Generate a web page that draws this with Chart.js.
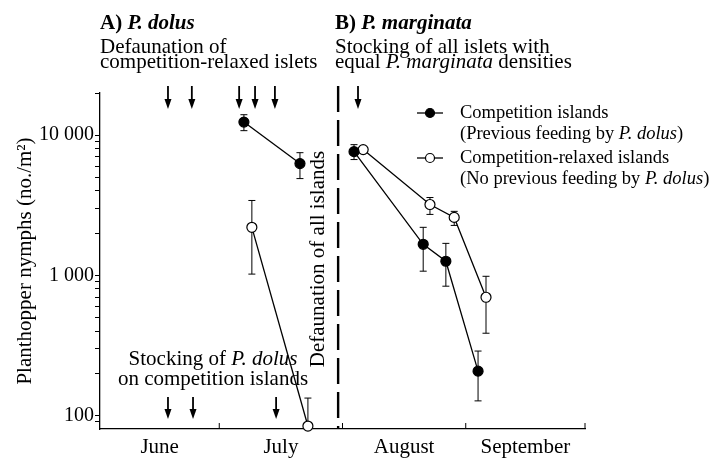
<!DOCTYPE html>
<html>
<head>
<meta charset="utf-8">
<script src="https://cdn.jsdelivr.net/npm/chart.js@4.4.0/dist/chart.umd.min.js"></script>
<style>
  html, body { margin: 0; padding: 0; background: #fff; }
  #wrap { width: 716px; height: 458px; }
</style>
</head>
<body>
<div id="wrap"><canvas id="chart"></canvas></div>
<script>
// days counted from 1 June
const monthNames = ['June', 'July', 'August', 'September'];
const monthMid = [15, 45.5, 76.5, 107];
const monthStart = [30, 61, 92, 122];

const yTickValues = [90, 100, 200, 300, 400, 500, 600, 700, 800, 900,
  1000, 2000, 3000, 4000, 5000, 6000, 7000, 8000, 9000, 10000, 20000];

// A) P. dolus
const compADay = [36.2, 50.3];
const compAVal = [12400, 6270];
const compALow = [10770, 4900];
const compAHigh = [14000, 7500];

const relADay = [38.2, 52.3];
const relAVal = [2200, 84];
const relALow = [1020, 80];
const relAHigh = [3420, 133];

// B) P. marginata
const compBDay = [63.9, 81.3, 87.0, 95.1];
const compBVal = [7630, 1665, 1260, 207];
const compBLow = [6700, 1070, 836, 127];
const compBHigh = [8560, 2200, 1690, 288];

const relBDay = [66.2, 83.0, 89.1, 97.1];
const relBVal = [7890, 3200, 2590, 697];
const relBLow = [7600, 2720, 2270, 386];
const relBHigh = [8200, 3590, 2860, 984];

// event markers
const defaunationDay = 59.9;
const topArrowDays = [17.1, 23.1, 35.0, 39.0, 44.0, 64.9];
const bottomArrowDays = [17.1, 23.4, 44.3];

const FONT = "'Liberation Serif', 'Times New Roman', serif";
Chart.defaults.font.family = FONT;
Chart.defaults.color = '#000';

function pts(days, vals) {
  return days.map((d, i) => ({ x: d, y: vals[i] }));
}

const errors = [
  [compADay, compALow, compAHigh],
  [relADay, relALow, relAHigh],
  [compBDay, compBLow, compBHigh],
  [relBDay, relBLow, relBHigh]
];

function series(days, vals, filled) {
  return {
    data: pts(days, vals),
    borderColor: '#000',
    borderWidth: 1.3,
    backgroundColor: filled ? '#000' : '#fff',
    pointBackgroundColor: filled ? '#000' : '#fff',
    pointBorderColor: '#000',
    pointBorderWidth: 1.2,
    pointRadius: 5,
    tension: 0,
    clip: false
  };
}

function richText(ctx, parts, x, y, size, align) {
  let total = 0;
  parts.forEach(p => {
    ctx.font = p[1] + ' ' + size + 'px ' + FONT;
    total += ctx.measureText(p[0]).width;
  });
  let cx = align === 'center' ? x - total / 2 : x;
  ctx.textAlign = 'left';
  parts.forEach(p => {
    ctx.font = p[1] + ' ' + size + 'px ' + FONT;
    ctx.fillText(p[0], cx, y);
    cx += ctx.measureText(p[0]).width;
  });
}

function arrow(ctx, x, y1, y2) {
  ctx.beginPath();
  ctx.moveTo(x, y1);
  ctx.lineTo(x, y2 - 8);
  ctx.lineWidth = 1.8;
  ctx.stroke();
  ctx.beginPath();
  ctx.moveTo(x - 3.5, y2 - 10);
  ctx.lineTo(x + 3.5, y2 - 10);
  ctx.lineTo(x, y2);
  ctx.closePath();
  ctx.fill();
}

const extras = {
  id: 'extras',
  beforeDatasetsDraw(chart) {
    const ctx = chart.ctx, xs = chart.scales.x, ys = chart.scales.y;
    ctx.save();
    ctx.strokeStyle = '#000';
    ctx.lineWidth = 1;
    errors.forEach(([days, lo, hi]) => {
      days.forEach((d, i) => {
        const x = xs.getPixelForValue(d);
        const y1 = ys.getPixelForValue(lo[i]);
        const y2 = ys.getPixelForValue(hi[i]);
        ctx.beginPath();
        ctx.moveTo(x, y1); ctx.lineTo(x, y2);
        ctx.moveTo(x - 3.5, y1); ctx.lineTo(x + 3.5, y1);
        ctx.moveTo(x - 3.5, y2); ctx.lineTo(x + 3.5, y2);
        ctx.stroke();
      });
    });
    ctx.restore();
  },
  afterDraw(chart) {
    const ctx = chart.ctx, xs = chart.scales.x;
    const area = chart.chartArea;
    ctx.save();
    ctx.fillStyle = '#000';
    ctx.strokeStyle = '#000';

    // month boundary ticks, pointing into the plot
    ctx.lineWidth = 1;
    monthStart.forEach(d => {
      const x = xs.getPixelForValue(d);
      ctx.beginPath();
      ctx.moveTo(x, area.bottom);
      ctx.lineTo(x, area.bottom - 6);
      ctx.stroke();
    });

    // dashed separator
    const dx = xs.getPixelForValue(defaunationDay);
    ctx.setLineDash([26, 8]);
    ctx.lineWidth = 2.4;
    ctx.beginPath();
    ctx.moveTo(dx, area.top - 7);
    ctx.lineTo(dx, area.bottom);
    ctx.stroke();
    ctx.setLineDash([]);

    // arrows
    topArrowDays.forEach(d => arrow(ctx, xs.getPixelForValue(d), area.top - 7, area.top + 16));
    bottomArrowDays.forEach(d => arrow(ctx, xs.getPixelForValue(d), area.bottom - 32, area.bottom - 10));

    // panel texts
    ctx.textBaseline = 'alphabetic';
    richText(ctx, [['A) ', 'bold'], ['P. dolus', 'italic bold']], 100, 29, 21, 'left');
    richText(ctx, [['Defaunation of', 'normal']], 100, 53, 21, 'left');
    richText(ctx, [['competition-relaxed islets', 'normal']], 100, 68, 21, 'left');
    richText(ctx, [['B) ', 'bold'], ['P. marginata', 'italic bold']], 335, 29, 21, 'left');
    richText(ctx, [['Stocking of all islets with', 'normal']], 335, 53, 21, 'left');
    richText(ctx, [['equal ', 'normal'], ['P. marginata', 'italic'], [' densities', 'normal']], 335, 68, 21, 'left');
    richText(ctx, [['Stocking of ', 'normal'], ['P. dolus', 'italic']], 213, 365, 21, 'center');
    richText(ctx, [['on competition islands', 'normal']], 213, 385, 21, 'center');

    ctx.save();
    ctx.translate(dx - 20, (area.top + area.bottom) / 2 - 2);
    ctx.rotate(-Math.PI / 2);
    ctx.textBaseline = 'middle';
    richText(ctx, [['Defaunation of all islands', 'normal']], 0, 0, 21, 'center');
    ctx.restore();

    // legend
    const lx1 = 417, lx2 = 443, tx = 460;
    const rows = [113, 158];
    rows.forEach((ry, i) => {
      ctx.lineWidth = 1.3;
      ctx.beginPath();
      ctx.moveTo(lx1, ry); ctx.lineTo(lx2, ry);
      ctx.stroke();
      ctx.beginPath();
      ctx.arc((lx1 + lx2) / 2, ry, 4.5, 0, Math.PI * 2);
      ctx.fillStyle = i === 0 ? '#000' : '#fff';
      ctx.fill();
      ctx.lineWidth = 1.2;
      ctx.stroke();
      ctx.fillStyle = '#000';
    });
    ctx.textBaseline = 'middle';
    richText(ctx, [['Competition islands', 'normal']], tx, rows[0], 18.5, 'left');
    richText(ctx, [['(Previous feeding by ', 'normal'], ['P. dolus', 'italic'], [')', 'normal']], tx, rows[0] + 21, 18.5, 'left');
    richText(ctx, [['Competition-relaxed islands', 'normal']], tx, rows[1], 18.5, 'left');
    richText(ctx, [['(No previous feeding by ', 'normal'], ['P. dolus', 'italic'], [')', 'normal']], tx, rows[1] + 21, 18.5, 'left');
    ctx.restore();
  }
};

new Chart(document.getElementById('chart'), {
  type: 'line',
  data: {
    datasets: [
      series(compADay, compAVal, true),
      series(relADay, relAVal, false),
      series(compBDay, compBVal, true),
      series(relBDay, relBVal, false)
    ]
  },
  options: {
    responsive: true,
    maintainAspectRatio: false,
    animation: false,
    layout: { padding: { left: 0, top: 93, right: 131, bottom: 0 } },
    plugins: { legend: { display: false }, tooltip: { enabled: false } },
    scales: {
      x: {
        type: 'linear',
        min: 0,
        max: 122,
        afterBuildTicks: s => { s.ticks = monthMid.map(v => ({ value: v })); },
        afterFit: s => { s.height = 29; },
        grid: { display: false, drawTicks: false },
        border: { display: true, color: '#000', width: 1.3 },
        ticks: {
          autoSkip: false,
          maxRotation: 0,
          padding: 6,
          font: { size: 21 },
          callback: (v, i) => monthNames[i]
        }
      },
      y: {
        type: 'logarithmic',
        min: 80,
        max: 20000,
        afterBuildTicks: s => { s.ticks = yTickValues.map(v => ({ value: v })); },
        afterFit: s => { s.width = 100; },
        grid: { display: true, drawOnChartArea: false, drawTicks: true, tickLength: 5, color: '#000', lineWidth: 1 },
        border: { display: true, color: '#000', width: 1.3 },
        ticks: {
          autoSkip: false,
          padding: 1,
          font: { size: 20 },
          callback: v => v === 100 ? '100' : v === 1000 ? '1 000' : v === 10000 ? '10 000' : ''
        },
        title: {
          display: true,
          text: 'Planthopper nymphs (no./m²)',
          font: { size: 21 },
          padding: { top: 13, bottom: 0 }
        }
      }
    }
  },
  plugins: [extras]
});
</script>
</body>
</html>
